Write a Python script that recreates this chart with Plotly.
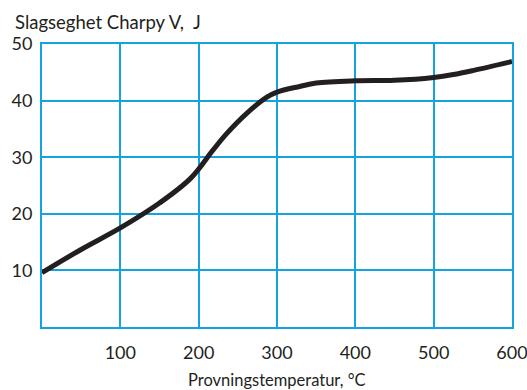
import plotly.graph_objects as go

temp = [0, 50, 100, 150, 190, 218, 236, 261, 287, 300, 329, 350, 400, 450, 500, 525, 550, 600]
energy = [9.6, 13.7, 17.5, 21.9, 26.3, 31.2, 34.2, 37.7, 40.6, 41.5, 42.5, 43.1, 43.5, 43.6, 44.1, 44.6, 45.3, 46.9]

x_ticks = [100, 200, 300, 400, 500, 600]
y_ticks = [10, 20, 30, 40, 50]

grid_color = "#12a3e0"
ink = "#231f20"
font_family = "Lato, 'Open Sans', sans-serif"

fig = go.Figure()
fig.add_trace(go.Scatter(x=temp, y=energy, mode="lines",
                         line=dict(color=ink, width=5, shape="spline", smoothing=1.0),
                         hoverinfo="skip", showlegend=False))

fig.update_layout(
    width=527, height=390,
    margin=dict(l=42, r=15, t=44, b=63, autoexpand=False),
    paper_bgcolor="white", plot_bgcolor="white",
    font=dict(family=font_family, color=ink, size=18),
    xaxis=dict(range=[0, 600], tickvals=x_ticks, ticktext=[str(v) for v in x_ticks],
               showgrid=True, gridcolor=grid_color, gridwidth=1.5,
               showline=True, linecolor=grid_color, linewidth=2, mirror=True,
               ticks="outside", ticklen=8, tickcolor="rgba(0,0,0,0)",
               ticklabeloverflow="allow",
               zeroline=False, fixedrange=True, automargin=False),
    yaxis=dict(range=[0, 50], tickvals=y_ticks, ticktext=[str(v) for v in y_ticks],
               showgrid=True, gridcolor=grid_color, gridwidth=1.5,
               showline=True, linecolor=grid_color, linewidth=2, mirror=True,
               ticks="outside", ticklen=4, tickcolor="rgba(0,0,0,0)",
               ticklabeloverflow="allow",
               zeroline=False, fixedrange=True, automargin=False),
    annotations=[
        dict(text="Slagseghet Charpy V,  J", xref="paper", yref="paper",
             x=-29/470, y=1 + 22/283, xanchor="left", yanchor="middle",
             showarrow=False, font=dict(size=18.5, color=ink, family=font_family)),
        dict(text="Provningstemperatur, °C", xref="paper", yref="paper",
             x=235/470, y=-(380-327)/283, xanchor="center", yanchor="middle",
             showarrow=False, font=dict(size=16.5, color=ink, family=font_family)),
    ],
)

fig.write_html("out.html")
